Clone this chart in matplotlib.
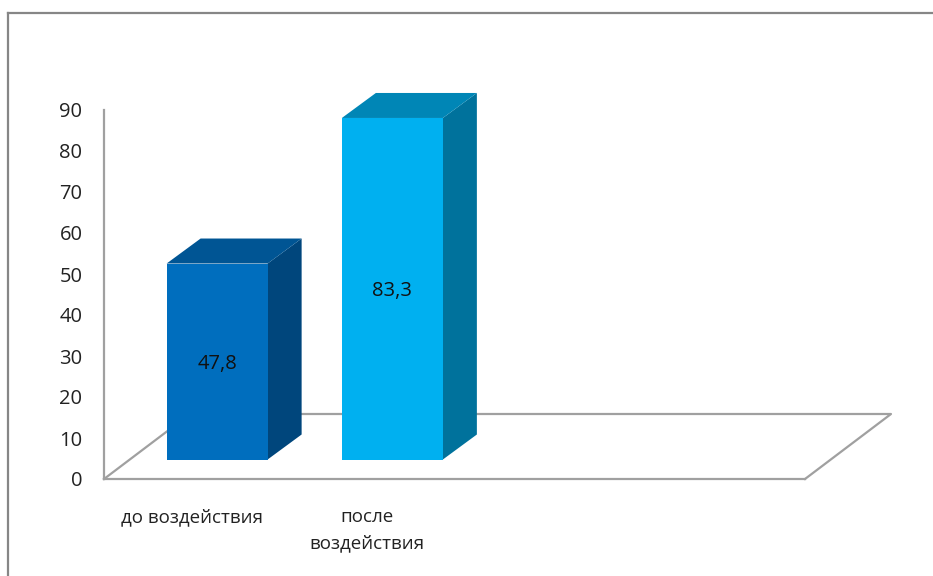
import matplotlib
matplotlib.use('Agg')
import matplotlib.pyplot as plt
from matplotlib.patches import Polygon
from matplotlib.lines import Line2D

categories = ['до воздействия', 'после\nвоздействия', '', '']
values = [47.8, 83.3]
value_labels = ['47,8', '83,3']
front_colors = ['#006EBE', '#00B0F0']
top_colors = ['#005594', '#0086B6']
side_colors = ['#00467C', '#00729C']
y_ticks = [0, 10, 20, 30, 40, 50, 60, 70, 80, 90]

W, H = 933, 576
plt.rcParams['font.family'] = ['Open Sans', 'DejaVu Sans']

fig = plt.figure(figsize=(W / 100, H / 100), dpi=100)
# axes rectangle = the front plane of the fake 3d chart, in pixels
left, right, top, bottom = 104, 805, 110, 479
ax = fig.add_axes([left / W, 1 - bottom / H, (right - left) / W, (bottom - top) / H])
ax.set_xlim(0, 4)
ax.set_ylim(0, 90)

px_x = 4 / (right - left)
px_y = 90 / (bottom - top)

grey = '#A0A0A0'

# floor
floor_dx, floor_dy = 86 * px_x, 65 * px_y
ax.plot([0, floor_dx, 4 + floor_dx, 4], [0, floor_dy, floor_dy, 0], color=grey, lw=1.6, clip_on=False, zorder=1)

# bars
bar_w = 101 * px_x
dep_x, dep_y = 34 * px_x, 25 * px_y
off_x, off_y = 25.5 * px_x, 19.5 * px_y
for i, v in enumerate(values):
    x0 = i + 0.5 + off_x - bar_w / 2
    x1 = x0 + bar_w
    y0 = off_y
    y1 = y0 + v
    ax.add_patch(Polygon([(x1, y0), (x1 + dep_x, y0 + dep_y), (x1 + dep_x, y1 + dep_y), (x1, y1)],
                         fc=side_colors[i], ec='none', clip_on=False, zorder=2))
    ax.add_patch(Polygon([(x0, y1), (x0 + dep_x, y1 + dep_y), (x1 + dep_x, y1 + dep_y), (x1, y1)],
                         fc=top_colors[i], ec='none', clip_on=False, zorder=2))
    ax.add_patch(Polygon([(x0, y0), (x1, y0), (x1, y1), (x0, y1)],
                         fc=front_colors[i], ec='none', clip_on=False, zorder=3))
    ax.text((x0 + x1) / 2, y0 + v / 2 - 0.5, value_labels[i], ha='center', va='center',
            fontsize=14.5, color='#111111', zorder=4)

for s in ['top', 'right']:
    ax.spines[s].set_visible(False)
for s in ['left', 'bottom']:
    ax.spines[s].set_color(grey)
    ax.spines[s].set_linewidth(1.6)

ax.set_yticks(y_ticks)
ax.set_xticks([0.5, 1.5, 2.5, 3.5])
ax.set_xticklabels(categories, linespacing=1.57)
ax.tick_params(axis='y', length=0, pad=15.5, labelsize=14.5, labelcolor='#222222')
ax.tick_params(axis='x', length=0, pad=21, labelsize=13.5, labelcolor='#222222')

# outer frame, open on the right and the bottom
for xs, ys in [([8, 8], [H, 13]), ([8, W], [13, 13])]:
    fig.add_artist(Line2D([x / W for x in xs], [1 - y / H for y in ys], color='#868686', lw=1.6))

fig.savefig('out.png', dpi=100)
